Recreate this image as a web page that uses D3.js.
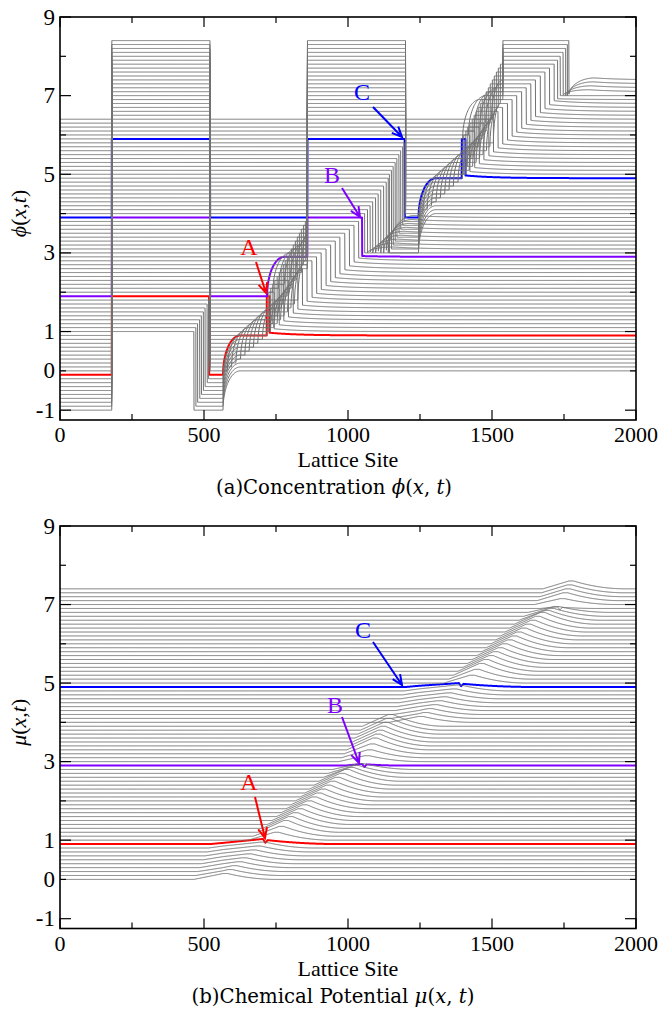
<!DOCTYPE html>
<html>
<head>
<meta charset="utf-8">
<script src="https://cdn.jsdelivr.net/npm/d3@7"></script>
<style>
  body { margin: 0; background: #fff; }
</style>
</head>
<body>
<svg id="chart" width="662" height="1009"></svg>
<script>
// ---- data ----
var nLines = 75, lineStep = 0.1;          // curve k is drawn shifted up by k*0.1
var lineColors = { 9: "#ff0000", 29: "#8000ff", 49: "#0000ff" };

var xTicksMajor = [0, 500, 1000, 1500, 2000];
var xTicksMinor = [250, 750, 1250, 1750];
var yTicksMajor = [9, 7, 5, 3, 1, -1];
var yTicksMinor = [8, 6, 4, 2, 0];
var yTickLabels = [9, 7, 5, 3, 1, 0, -1];

// domain walls of the pattern left behind the front
var firstWall = 180, box1Right = 521, box2Left = 859, box2Right = 1200;
var stair1 = [465, 472, 478, 485, 491, 498, 504, 511, 516, 518];          // k = 0..9
var stair2 = [1144, 1151, 1157, 1164, 1170, 1177, 1183, 1190, 1195, 1197]; // k = 40..49
var riseLen = 60;                                                          // -1 -> 0 rise length

// per curve: where it leaves -1, rise to +1 (null = none), front, value after the front
var arcStart = [566, 566, 566, 566, 566, 566, 566, 566, 566,
  566,
  581, 596, 611, 627, 642, 657, 672, 687, 703, 718,
  730, 742, 754, 766, 778, 790, 802, 814, 826,
  719,
  739, 759, 779, 799, 819, 839, 859, 859, 859, 859,
  1245, 1245, 1245, 1245, 1245, 1245, 1245, 1245, 1245,
  1245,
  1260, 1275, 1290, 1306, 1321, 1336, 1351, 1366, 1382, 1397,
  1409, 1421, 1433, 1445, 1457, 1469, 1481, 1493, 1505,
  1398,
  1418, 1438, 1458, 1478, 1498];
var riseX = [null, null, null, null, null, null, null, null, null,
  718, 725, 732, 739, 746, 754, 761, 768, 775, 782, 789, 796, 803, 810, 817, 824, 831, 838, 845, 852,
  859, 859, 859, 859, 859, 859, 859, 859, 859, 859, 859,
  null, null, null, null, null, null, null, null, null,
  1395, 1402, 1409, 1416, 1423, 1431, 1438, 1445, 1452, 1459, 1466, 1473, 1480, 1487, 1494, 1501, 1508, 1515, 1522, 1529,
  1538, 1538, 1538, 1538, 1538, 1538];
var frontX = [566, 583, 599, 616, 632, 649, 665, 682, 698,
  728, 744, 761, 777, 793, 810, 826, 842, 858, 875, 891, 907, 924, 940, 956, 972, 989, 1005, 1021, 1037,
  1049, 1058, 1068, 1077, 1086, 1096, 1105, 1114, 1124, 1133, 1140,
  1245, 1262, 1278, 1295, 1311, 1328, 1344, 1361, 1377,
  1408, 1423, 1440, 1456, 1472, 1489, 1505, 1521, 1537, 1554, 1570, 1586, 1603, 1619, 1635, 1651, 1668, 1684, 1700, 1716,
  1728, 1737, 1747, 1756, 1762, 1767];
var afterFront = [0.07, 0.07, 0.07, 0.07, 0.07, 0.07, 0.07, 0.07, 0.07,
  0.07, 0.07, 0.07, 0.07, 0.07, 0.07, 0.07, 0.07, 0.07, 0.07, 0.07, 0.07, 0.07, 0.07, 0.07, 0.07, 0.07, 0.07, 0.07, 0.07,
  0.02, 0, -0.1, -0.2, -0.3, -0.4, -0.5, -0.6, -0.7, -0.8, -0.9,
  0.07, 0.07, 0.07, 0.07, 0.07, 0.07, 0.07, 0.07, 0.07,
  0.07, 0.07, 0.07, 0.07, 0.07, 0.07, 0.07, 0.07, 0.07, 0.07, 0.07, 0.07, 0.07, 0.07, 0.07, 0.07, 0.07, 0.07, 0.07, 0.07,
  0.02, 0, -0.1, -0.2, -0.3, -0.4];

// chemical potential per curve: start of rise, knee, peak (at the front), decay length
var muStart = [465, 472, 478, 485, 491, 498, 504, 511, 516,
  521,
  654, 671, 687, 703, 720, 736, 752, 768, 785, 801, 817, 834, 850, 866, 882, 899, 915, 931, 947,
  990,
  968, 978, 987, 996, 1006, 1015, 1024, 1034, 1043, 1050,
  1144, 1151, 1157, 1164, 1170, 1177, 1183, 1190, 1195,
  1200,
  1333, 1350, 1366, 1382, 1399, 1415, 1431, 1447, 1464, 1480, 1496, 1513, 1529, 1545, 1561, 1578, 1594, 1610, 1626,
  1668,
  1647, 1657, 1666, 1672, 1677];
var muKneeX = [566, 566, 566, 566, 566, 566, 566, 566, 566,
  566,
  654, 671, 687, 703, 720, 736, 752, 768, 785, 801, 817, 834, 850, 866, 882, 899, 915, 931, 947,
  990,
  968, 978, 987, 996, 1006, 1015, 1024, 1034, 1043, 1050,
  1245, 1245, 1245, 1245, 1245, 1245, 1245, 1245, 1245,
  1245,
  1333, 1350, 1366, 1382, 1399, 1415, 1431, 1447, 1464, 1480, 1496, 1513, 1529, 1545, 1561, 1578, 1594, 1610, 1626,
  1668,
  1647, 1657, 1666, 1672, 1677];
var muKnee = [0.15, 0.12, 0.1, 0.1, 0.09, 0.08, 0.07, 0.06, 0.05,
  0.03,
  0, 0, 0, 0, 0, 0, 0, 0, 0, 0, 0, 0, 0, 0, 0, 0, 0, 0, 0,
  0,
  0, 0, 0, 0, 0, 0, 0, 0, 0, 0,
  0.15, 0.12, 0.1, 0.1, 0.09, 0.08, 0.07, 0.06, 0.05,
  0.03,
  0, 0, 0, 0, 0, 0, 0, 0, 0, 0, 0, 0, 0, 0, 0, 0, 0, 0, 0,
  0,
  0, 0, 0, 0, 0];
var muPeakX = [566, 583, 599, 616, 632, 649, 665, 682, 698,
  705,
  744, 761, 777, 793, 810, 826, 842, 858, 875, 891, 907, 924, 940, 956, 972, 989, 1005, 1021, 1037,
  1049,
  1058, 1068, 1077, 1086, 1096, 1105, 1114, 1124, 1133, 1140,
  1245, 1262, 1278, 1295, 1311, 1328, 1344, 1361, 1377,
  1385,
  1423, 1440, 1456, 1472, 1489, 1505, 1521, 1537, 1554, 1570, 1586, 1603, 1619, 1635, 1651, 1668, 1684, 1700, 1716,
  1728,
  1737, 1747, 1756, 1762, 1767];
var muPeak = [0.15, 0.15, 0.15, 0.15, 0.15, 0.15, 0.15, 0.15, 0.15,
  0.13,
  0.2, 0.25, 0.3, 0.3, 0.3, 0.3, 0.3, 0.3, 0.3, 0.3, 0.3, 0.3, 0.3, 0.3, 0.3, 0.3, 0.25, 0.2, 0.15,
  0.04,
  0.15, 0.2, 0.25, 0.3, 0.3, 0.3, 0.3, 0.3, 0.3, 0.3,
  0.15, 0.15, 0.15, 0.15, 0.15, 0.15, 0.15, 0.15, 0.15,
  0.1,
  0.2, 0.25, 0.3, 0.3, 0.3, 0.3, 0.3, 0.3, 0.3, 0.3, 0.3, 0.3, 0.3, 0.3, 0.3, 0.3, 0.25, 0.2, 0.15,
  0.04,
  0.15, 0.2, 0.2, 0.2, 0.2];
var muDecay = [170, 170, 170, 170, 170, 170, 170, 170, 170,
  250,
  180, 180, 180, 180, 180, 180, 180, 180, 180, 180, 180, 180, 180, 180, 180, 180, 180, 180, 180,
  120,
  180, 180, 180, 180, 180, 180, 180, 180, 180, 180,
  170, 170, 170, 170, 170, 170, 170, 170, 170,
  250,
  180, 180, 180, 180, 180, 180, 180, 180, 180, 180, 180, 180, 180, 180, 180, 180, 180, 180, 180,
  120,
  180, 180, 180, 180, 180];
// small notch right after the peak on the highlighted curves: [value in notch, value after]
var muNotch = { 9: [0.03, 0.1], 29: [-0.04, 0.03], 49: [0.02, 0.08], 69: [-0.04, 0.03] };

// arrows and letters (pixel anchors)
var markers = [
  { text: "A", color: "#ff0000", lx: 249, ly: 255, from: [256, 262], to: [266, 293] },
  { text: "B", color: "#8000ff", lx: 332, ly: 183, from: [342, 188], to: [360, 217] },
  { text: "C", color: "#0000ff", lx: 362, ly: 100, from: [373, 107], to: [402, 137] },
  { text: "A", color: "#ff0000", lx: 249, ly: 790, from: [255, 797], to: [265, 838] },
  { text: "B", color: "#8000ff", lx: 335, ly: 713, from: [342, 717], to: [359, 763] },
  { text: "C", color: "#0000ff", lx: 363, ly: 638, from: [373, 642], to: [402, 685] }
];

var serif = "Liberation Serif";

// ---- profiles ----
function riseFromMinus(x, L, len) {
  var u = (x - L) / len;
  return -1 + Math.sqrt(1 - (1 - u) * (1 - u));
}

function phiAt(k, x) {
  var w1 = k < stair1.length ? stair1[k] : box1Right;
  var closed2 = k >= 40;
  var w2 = closed2 ? (k - 40 < stair2.length ? stair2[k - 40] : box2Right) : null;
  if (x < firstWall) return -1;
  if (x < w1) return 1;
  if (closed2) {
    if (x < box2Left) return -1;
    if (x < w2) return 1;
  }
  var L = arcStart[k], R = riseX[k], F = frontX[k];
  if (x < L) return -1;
  if (R == null) return x < L + riseLen ? riseFromMinus(x, L, riseLen) : 0;
  var len = Math.min(riseLen, R - L);
  if (x < R) return x < L + len ? riseFromMinus(x, L, len) : 0;
  if (x < F) return 1;
  var d = afterFront[k];
  if (d >= 0) return d * Math.exp(-(x - F) / 100);
  var v = (x - F) / 90;
  if (v < 1) return d + (0.05 - d) * Math.sqrt(1 - (1 - v) * (1 - v));
  return 0.05 * Math.exp(-(x - F - 90) / 100);
}

function phiBreaks(k) {
  var b = [firstWall, k < stair1.length ? stair1[k] : box1Right, arcStart[k], frontX[k]];
  if (riseX[k] != null) b.push(riseX[k]);
  if (k >= 40) b.push(box2Left, k - 40 < stair2.length ? stair2[k - 40] : box2Right);
  return b;
}

function muAt(k, x) {
  var a = muStart[k], bx = muKneeX[k], bh = muKnee[k],
      px = muPeakX[k], ph = muPeak[k], e = muDecay[k];
  var notch = muNotch[k] || [ph, ph], dv = notch[0], q = notch[1];
  if (x <= a) return 0;
  if (x < bx) return bh * (x - a) / (bx - a);
  if (x < px) return bh + (ph - bh) * (x - bx) / (px - bx);
  if (x < px + 8) return ph + (dv - ph) * (x - px) / 8;
  if (x < px + 16) return dv + (q - dv) * (x - px - 8) / 8;
  var u = (x - px - 16) / e;
  return u < 1 ? q * (1 - u) * (1 - u) : 0;
}

function muBreaks(k) { return [muStart[k], muKneeX[k], muPeakX[k], muPeakX[k] + 8, muPeakX[k] + 16]; }

function sampleXs(breaks) {
  var xs = d3.range(0, 2001, 2);
  breaks.forEach(function(b) {
    if (b > 0 && b < 2000) xs.push(b - 0.3, b + 0.3);
  });
  return xs.sort(function(p, q) { return p - q; });
}

// ---- drawing ----
var svg = d3.select("#chart");
var left = 60, right = 636;

var panels = [
  { top: 17, bottom: 420, f: phiAt, breaks: phiBreaks, sym: "\u03d5",
    caption: ["(a)Concentration ", "\u03d5"], capWidth: 236, capX: 334, capY: 494,
    tickY: 442, titleY: 467 },
  { top: 526, bottom: 928.5, f: muAt, breaks: muBreaks, sym: "\u03bc",
    caption: ["(b)Chemical Potential ", "\u03bc"], capWidth: 283, capX: 333, capY: 1003,
    tickY: 951, titleY: 976 }
];

var x = d3.scaleLinear().domain([0, 2000]).range([left, right]);

panels.forEach(function(p, pi) {
  var y = d3.scaleLinear().domain([-1.25, 9]).range([p.bottom, p.top]);
  var g = svg.append("g");

  var clipId = "clip" + pi;
  svg.append("clipPath").attr("id", clipId)
    .append("rect").attr("x", left).attr("y", p.top)
    .attr("width", right - left).attr("height", p.bottom - p.top);

  var line = d3.line()
    .x(function(d) { return x(d[0]); })
    .y(function(d) { return y(d[1]); });

  // coloured curves first, grey ones on top of them (as in the figure)
  var order = d3.range(nLines).sort(function(a, b) {
    return (lineColors[b] ? 1 : 0) - (lineColors[a] ? 1 : 0) || a - b;
  });
  var curves = g.append("g").attr("clip-path", "url(#" + clipId + ")");
  order.forEach(function(k) {
    var off = k * lineStep;
    var pts = sampleXs(p.breaks(k)).map(function(xx) { return [xx, off + p.f(k, xx)]; });
    var col = lineColors[k];
    curves.append("path")
      .attr("d", line(pts))
      .attr("fill", "none")
      .attr("stroke", col || "#727272")
      .attr("stroke-width", col ? 2 : 1)
      .attr("stroke-linejoin", "round");
  });

  // frame
  g.append("rect")
    .attr("x", left).attr("y", p.top)
    .attr("width", right - left).attr("height", p.bottom - p.top)
    .attr("fill", "none").attr("stroke", "#000").attr("stroke-width", 1.6);

  // ticks pointing inward on all four sides
  var ticks = g.append("g").attr("stroke", "#000").attr("stroke-width", 1.2);
  function xTick(v, len) {
    ticks.append("line").attr("x1", x(v)).attr("x2", x(v)).attr("y1", p.bottom).attr("y2", p.bottom - len);
    ticks.append("line").attr("x1", x(v)).attr("x2", x(v)).attr("y1", p.top).attr("y2", p.top + len);
  }
  function yTick(v, len) {
    ticks.append("line").attr("x1", left).attr("x2", left + len).attr("y1", y(v)).attr("y2", y(v));
    ticks.append("line").attr("x1", right).attr("x2", right - len).attr("y1", y(v)).attr("y2", y(v));
  }
  xTicksMajor.forEach(function(v) { xTick(v, 10); });
  xTicksMinor.forEach(function(v) { xTick(v, 6); });
  yTicksMajor.forEach(function(v) { yTick(v, 11); });
  yTicksMinor.forEach(function(v) { yTick(v, 6); });

  g.selectAll(".xl").data(xTicksMajor).enter().append("text")
    .attr("x", function(d) { return x(d); }).attr("y", p.tickY)
    .attr("text-anchor", "middle").attr("font-family", serif).attr("font-size", 22)
    .text(function(d) { return d; });
  g.selectAll(".yl").data(yTickLabels).enter().append("text")
    .attr("x", 55).attr("y", function(d) { return y(d) + 7.5; })
    .attr("text-anchor", "end").attr("font-family", serif).attr("font-size", 23)
    .text(function(d) { return d; });

  g.append("text").attr("x", (left + right) / 2).attr("y", p.titleY)
    .attr("text-anchor", "middle").attr("font-family", serif).attr("font-size", 22)
    .text("Lattice Site");

  // y title, rotated
  var yt = g.append("text")
    .attr("transform", "translate(26," + ((p.top + p.bottom) / 2 - 5) + ") rotate(-90)")
    .attr("text-anchor", "middle").attr("font-family", serif).attr("font-size", 22);
  yt.append("tspan").attr("font-style", "italic").text(p.sym);
  yt.append("tspan").text("(");
  yt.append("tspan").attr("font-style", "italic").text("x");
  yt.append("tspan").text(",");
  yt.append("tspan").attr("font-style", "italic").text("t");
  yt.append("tspan").text(")");

  // caption, sized to the width it has in the figure
  var cap = g.append("text").attr("x", p.capX).attr("y", p.capY)
    .attr("text-anchor", "middle").attr("font-family", "DejaVu Serif").attr("font-size", 16);
  cap.append("tspan").text(p.caption[0]);
  cap.append("tspan").attr("font-style", "italic").text(p.caption[1]);
  cap.append("tspan").text("(");
  cap.append("tspan").attr("font-style", "italic").text("x");
  cap.append("tspan").text(", ");
  cap.append("tspan").attr("font-style", "italic").text("t");
  cap.append("tspan").text(")");
  var w = cap.node().getComputedTextLength();
  cap.attr("font-size", (16 * p.capWidth / w).toFixed(2));
});

// letters with arrows
markers.forEach(function(m) {
  svg.append("text").attr("x", m.lx).attr("y", m.ly)
    .attr("text-anchor", "middle").attr("font-family", serif).attr("font-size", 24)
    .attr("fill", m.color).text(m.text);
  var dx = m.to[0] - m.from[0], dy = m.to[1] - m.from[1];
  var ang = Math.atan2(dy, dx), hl = 11, spread = 0.42;
  var path = d3.path();
  path.moveTo(m.from[0], m.from[1]);
  path.lineTo(m.to[0], m.to[1]);
  path.moveTo(m.to[0] - hl * Math.cos(ang - spread), m.to[1] - hl * Math.sin(ang - spread));
  path.lineTo(m.to[0], m.to[1]);
  path.lineTo(m.to[0] - hl * Math.cos(ang + spread), m.to[1] - hl * Math.sin(ang + spread));
  svg.append("path").attr("d", path.toString())
    .attr("fill", "none").attr("stroke", m.color).attr("stroke-width", 2);
});
</script>
</body>
</html>
